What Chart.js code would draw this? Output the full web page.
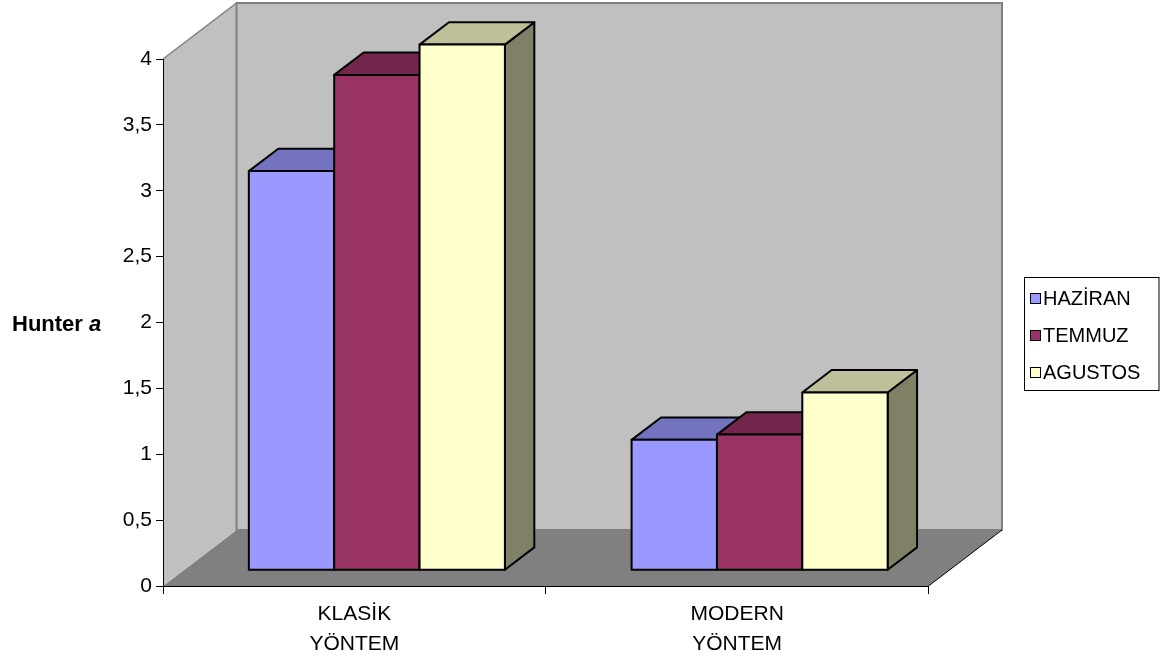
<!DOCTYPE html>
<html lang="tr">

<head>
    <meta charset="UTF-8">
    <title>Hunter a</title>
    <script src="https://cdn.jsdelivr.net/npm/chart.js@4.4.1/dist/chart.umd.min.js"></script>
    <style>
        html, body { margin: 0; padding: 0; background: #fff; }
        #wrap { width: 1168px; height: 662px; }
    </style>
</head>

<body>
    <div id="wrap"><canvas id="myChart" width="1168" height="662"></canvas></div>
    <script>
        const categories = [['KLASİK', 'YÖNTEM'], ['MODERN', 'YÖNTEM']];
        const seriesNames = ['HAZİRAN', 'TEMMUZ', 'AGUSTOS'];
        const haziran = [3.03, 0.99];
        const temmuz = [3.76, 1.03];
        const agustos = [3.99, 1.35];
        const yTickLabels = ['0', '0,5', '1', '1,5', '2', '2,5', '3', '3,5', '4'];

        const frontColors = ['#9999FF', '#993366', '#FFFFCC'];
        const topColors = ['#7373BF', '#73264D', '#BFBF99'];
        const sideColors = ['#4D4D80', '#4D1A33', '#808066'];

        const FONT = '"Liberation Sans", Arial, sans-serif';
        // full depth of the box, where the bar fronts sit, and how deep a bar is
        const DEPTH = { x: 73.5, y: -56 };
        const BAR_OFFSET = { x: 22.5, y: -15.7 };
        const BAR_DEPTH = 0.4;

        function poly(ctx, pts, fill, stroke, lw) {
            ctx.beginPath();
            ctx.moveTo(pts[0][0], pts[0][1]);
            for (let i = 1; i < pts.length; i++) ctx.lineTo(pts[i][0], pts[i][1]);
            ctx.closePath();
            if (fill) { ctx.fillStyle = fill; ctx.fill(); }
            if (stroke) { ctx.strokeStyle = stroke; ctx.lineWidth = lw || 1; ctx.stroke(); }
        }

        const threeD = {
            id: 'threeD',
            beforeDraw(chart) {
                const ctx = chart.ctx, a = chart.chartArea;
                const L = a.left, R = a.right, T = a.top, B = a.bottom, dx = DEPTH.x, dy = DEPTH.y;
                ctx.save();
                // floor
                poly(ctx, [[L, B], [R, B], [R + dx, B + dy], [L + dx, B + dy]], '#808080');
                // left wall
                poly(ctx, [[L, B], [L + dx, B + dy], [L + dx, T + dy], [L, T]], '#C0C0C0');
                // back wall
                poly(ctx, [[L + dx, T + dy], [R + dx, T + dy], [R + dx, B + dy], [L + dx, B + dy]], '#C0C0C0', '#808080', 2);
                ctx.beginPath();
                ctx.moveTo(L, T); ctx.lineTo(L + dx, T + dy);
                ctx.strokeStyle = '#808080'; ctx.lineWidth = 1.5; ctx.stroke();
                ctx.beginPath();
                ctx.moveTo(R, B); ctx.lineTo(R + dx, B + dy);
                ctx.strokeStyle = '#000'; ctx.lineWidth = 1; ctx.stroke();
                ctx.restore();
            },
            beforeDatasetDraw() {
                return false;
            },
            afterDatasetsDraw(chart) {
                const ctx = chart.ctx;
                const bx = DEPTH.x * BAR_DEPTH, by = DEPTH.y * BAR_DEPTH;
                const bars = [];
                chart.data.datasets.forEach((ds, di) => {
                    chart.getDatasetMeta(di).data.forEach(el => bars.push({ el, di }));
                });
                bars.sort((p, q) => p.el.x - q.el.x);
                ctx.save();
                ctx.translate(BAR_OFFSET.x, BAR_OFFSET.y);
                ctx.lineJoin = 'round';
                bars.forEach(({ el, di }) => {
                    const { x, y, base, width } = el.getProps(['x', 'y', 'base', 'width'], true);
                    const l = x - width / 2, r = x + width / 2;
                    poly(ctx, [[r, y], [r + bx, y + by], [r + bx, base + by], [r, base]], sideColors[di], '#000', 2);
                    poly(ctx, [[l, y], [r, y], [r + bx, y + by], [l + bx, y + by]], topColors[di], '#000', 2);
                    el.draw(ctx, chart.chartArea);
                    ctx.strokeStyle = '#000';
                    ctx.lineWidth = 2;
                    ctx.strokeRect(l, y, width, base - y);
                });
                ctx.restore();
            },
            afterDraw(chart) {
                const ctx = chart.ctx;
                ctx.save();
                // axis title
                ctx.fillStyle = '#000';
                ctx.textBaseline = 'alphabetic';
                ctx.textAlign = 'left';
                ctx.font = 'bold 22px ' + FONT;
                const t = 'Hunter ';
                ctx.fillText(t, 12, 331);
                const w = ctx.measureText(t).width;
                ctx.font = 'italic bold 22px ' + FONT;
                ctx.fillText('a', 12 + w, 331);
                // legend
                ctx.strokeStyle = '#000';
                ctx.lineWidth = 1;
                ctx.strokeRect(1024.5, 277.5, 134.5, 113);
                ctx.font = '20px ' + FONT;
                ctx.textBaseline = 'middle';
                seriesNames.forEach((name, i) => {
                    const cy = 298.5 + i * 37;
                    ctx.fillStyle = frontColors[i];
                    ctx.fillRect(1030.5, cy - 5, 10, 10);
                    ctx.strokeRect(1030.5, cy - 5, 10, 10);
                    ctx.fillStyle = '#000';
                    ctx.fillText(name, 1043, cy + 1);
                });
                ctx.restore();
            }
        };

        const datasets = [haziran, temmuz, agustos].map((vals, i) => ({
            label: seriesNames[i],
            data: vals,
            backgroundColor: frontColors[i],
            borderWidth: 0,
            borderSkipped: false,
            clip: false
        }));

        const tickFont = { family: FONT, size: 21, lineHeight: 1.45 };

        window.myChart = new Chart(document.getElementById('myChart').getContext('2d'), {
            type: 'bar',
            data: { labels: categories, datasets: datasets },
            options: {
                responsive: false,
                animation: false,
                categoryPercentage: 0.669,
                barPercentage: 1,
                layout: { padding: { top: 59, right: 239.5, left: 0, bottom: 0 } },
                plugins: { legend: { display: false }, tooltip: { enabled: false } },
                scales: {
                    x: {
                        offset: true,
                        grid: { offset: true, drawOnChartArea: false, tickLength: 8, color: '#000', tickWidth: 1 },
                        border: { color: '#000', width: 1 },
                        ticks: { color: '#000', font: tickFont, padding: 5, maxRotation: 0, autoSkip: false },
                        afterFit: s => { s.height = 76; }
                    },
                    y: {
                        min: 0,
                        max: 4,
                        grid: { drawOnChartArea: false, tickLength: 7, color: '#000', tickWidth: 1 },
                        border: { color: '#000', width: 1 },
                        ticks: {
                            stepSize: 0.5,
                            color: '#000',
                            font: tickFont,
                            padding: 4,
                            callback: (v, i) => yTickLabels[i]
                        },
                        afterFit: s => { s.width = 163; }
                    }
                }
            },
            plugins: [threeD]
        });
    </script>
</body>

</html>
